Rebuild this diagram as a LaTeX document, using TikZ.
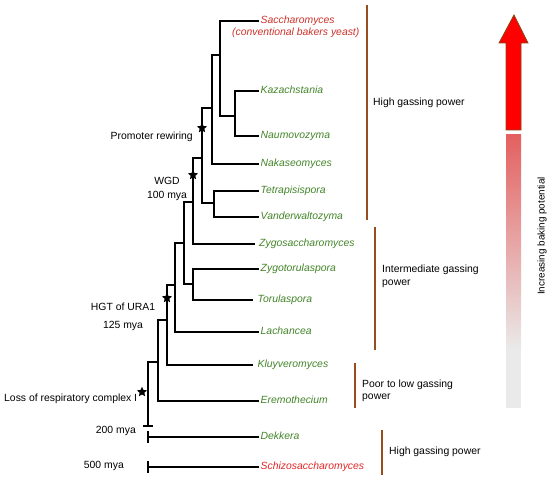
\documentclass[tikz,border=0pt]{standalone}
\usepackage{fontspec}
\setmainfont{Liberation Sans}
\usetikzlibrary{shapes.geometric}
\definecolor{leafred}{RGB}{204,50,42}
\definecolor{brightred}{RGB}{228,38,38}
\definecolor{leafgreen}{RGB}{66,132,40}
\definecolor{barbrown}{RGB}{150,78,30}
\definecolor{arrowred}{RGB}{255,0,0}
\definecolor{arrowedge}{RGB}{135,70,20}
\definecolor{fadetop}{RGB}{228,96,96}
\definecolor{fadegrey}{RGB}{234,234,234}
\begin{document}
\begin{tikzpicture}[x=1pt,y=-1pt,
  every node/.style={font=\fontsize{10.4}{13}\selectfont, inner sep=0pt},
  branch/.style={line width=1.1pt, black},
  leaf/.style={anchor=west, inner xsep=1.5pt, text height=7.6pt, text depth=2.2pt, font=\fontsize{10.4}{13}\selectfont\itshape},
  green leaf/.style={leaf, text=leafgreen},
  red leaf/.style={leaf, text=leafred},
  lbl/.style={text height=7.6pt, text depth=2.2pt},
  event/.style={star, star points=5, star point ratio=2.1, fill=black, draw=none, minimum size=10.5pt, inner sep=0pt},
  group bar/.style={barbrown, line width=1.6pt},
]
\path[use as bounding box] (0,0) rectangle (550,481);

% leaves
\node[red leaf]   (sacch) at (259,21)  {Saccharomyces};
\node[leaf, text=leafred, anchor=west, inner xsep=0pt] (conv) at (232,33) {(conventional bakers yeast)};
\node[green leaf] (kaz)   at (259,91)  {Kazachstania};
\node[green leaf] (naum)  at (259,136) {Naumovozyma};
\node[green leaf] (naka)  at (259,164) {Nakaseomyces};
\node[green leaf] (tetra) at (259,191) {Tetrapisispora};
\node[green leaf] (vand)  at (259,217) {Vanderwaltozyma};
\node[green leaf, inner xsep=4pt] (zsac) at (255,244) {Zygosaccharomyces};
\node[green leaf] (ztor)  at (259,269) {Zygotorulaspora};
\node[green leaf, inner xsep=4.5pt] (tor) at (253,300) {Torulaspora};
\node[green leaf] (lach)  at (259,332) {Lachancea};
\node[green leaf, inner xsep=4.5pt] (kluy) at (253,365) {Kluyveromyces};
\node[green leaf] (erem)  at (259,401) {Eremothecium};
\node[green leaf] (dekk)  at (259,437) {Dekkera};
\node[leaf, text=brightred] (schi)  at (259,467) {Schizosaccharomyces};

% internal nodes
\coordinate (nKN) at (235,116);
\coordinate (nA)  at (220,55);
\coordinate (nB)  at (212,108);
\coordinate (nTV) at (214,203);
\coordinate (nC)  at (202,158);
\coordinate (nD)  at (193,202);
\coordinate (nZT) at (193,284);
\coordinate (nE)  at (184,243);
\coordinate (nF)  at (175,285);
\coordinate (nG)  at (167,320);
\coordinate (nH)  at (158,362);
\coordinate (nI)  at (148,426);
\coordinate (dk)  at (148,437);
\coordinate (sz)  at (148,467);

\draw[branch] (nKN) |- (kaz.west);
\draw[branch] (nKN) |- (naum.west);
\draw[branch] (nA) |- (sacch.west);
\draw[branch] (nA) |- (nKN);
\draw[branch] (nB) |- (nA);
\draw[branch] (nB) |- (naka.west);
\draw[branch] (nTV) |- (tetra.west);
\draw[branch] (nTV) |- (vand.west);
\draw[branch] (nC) |- (nB);
\draw[branch] (nC) |- (nTV);
\draw[branch] (nD) |- (nC);
\draw[branch] (nD) |- (zsac.west);
\draw[branch] (nZT) |- (ztor.west);
\draw[branch] (nZT) |- (tor.west);
\draw[branch] (nE) |- (nD);
\draw[branch] (nE) |- (nZT);
\draw[branch] (nF) |- (nE);
\draw[branch] (nF) |- (lach.west);
\draw[branch] (nG) |- (nF);
\draw[branch] (nG) |- (kluy.west);
\draw[branch] (nH) |- (nG);
\draw[branch] (nH) |- (erem.west);
\draw[branch] (nI) |- (nH);
\draw[branch] (nI) +(-5,0) -- +(5,0);
\draw[branch] (dk) +(0,-6) -- +(0,6);
\draw[branch] (dk) -- (dekk.west);
\draw[branch] (sz) +(0,-6) -- +(0,6);
\draw[branch] (sz) -- (schi.west);

% events
\node[event] (ev1) at (202,128) {};
\node[event] (ev2) at (193,175) {};
\node[event] (ev3) at (167,298) {};
\node[event] (ev4) at (142,392) {};

\node[lbl, anchor=east] (promoter) at (193,137) {Promoter rewiring};
\node[align=center] (wgd) at (167,189) {WGD\\[1pt]100 mya};
\node[lbl] (hgt) at (123,308) {HGT of URA1};
\node[lbl] (hgtmya) at (123,326) {125 mya};
\node[lbl, anchor=west] (loss) at (4,399) {Loss of respiratory complex I};
\node[lbl, anchor=east] (mya200) at (136,431) {200 mya};
\node[lbl, anchor=east] (mya500) at (124,466) {500 mya};

% groups
\draw[group bar] (367,5) -- (367,220);
\draw[group bar] (375,227) -- (375,350);
\draw[group bar] (355,363) -- (355,408);
\draw[group bar] (382,430) -- (382,475);
\node[lbl, anchor=west] (g1) at (373,103) {High gassing power};
\node[anchor=west, align=left] (g2) at (382,276.5) {Intermediate gassing\\power};
\node[anchor=west, align=left, font=\fontsize{10.4}{12}\selectfont] (g3) at (362,391) {Poor to low gassing\\power};
\node[lbl, anchor=west] (g4) at (389,452) {High gassing power};

% baking potential arrow
\filldraw[fill=arrowred, draw=arrowedge, line width=0.8pt, line join=miter]
  (506,130) -- (506,43) -- (499,43) -- (514,15) -- (528,43) -- (521,43) -- (521,130) -- cycle;
\shade[top color=fadetop, bottom color=fadegrey] (506,135) rectangle (521,350);
\fill[fadegrey] (506,350) rectangle (521,408);
\node[rotate=90, font=\fontsize{9.9}{12}\selectfont] (pot) at (542,236) {Increasing baking potential};
\end{tikzpicture}
\end{document}
